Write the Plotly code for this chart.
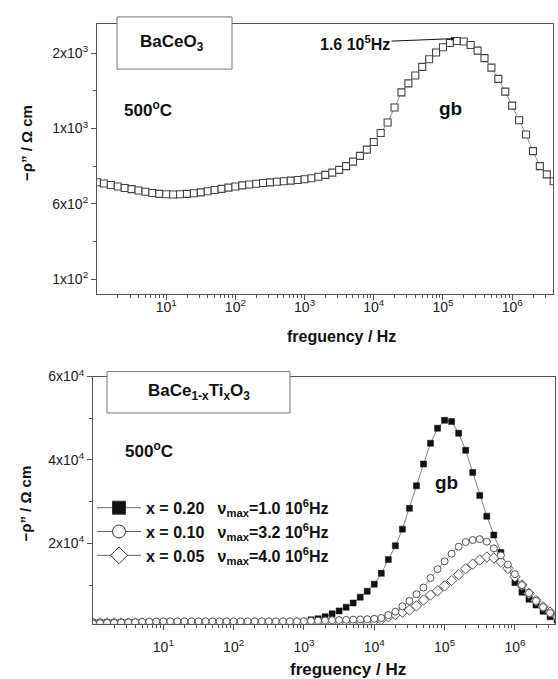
import plotly.graph_objects as go

# ---------------- data ----------------
# top panel: BaCeO3, log10(frequency / Hz) and -rho'' (axis units)
LOG_F_TOP = [0.0, 0.1, 0.2, 0.3, 0.4, 0.5, 0.6, 0.7, 0.8, 0.9,
             1.0, 1.1, 1.2, 1.3, 1.4, 1.5, 1.6, 1.7, 1.8, 1.9,
             2.0, 2.1, 2.2, 2.3, 2.4, 2.5, 2.6, 2.7, 2.8, 2.9,
             3.0, 3.1, 3.2, 3.3, 3.4, 3.5, 3.6, 3.7, 3.8, 3.9,
             4.0, 4.1, 4.2, 4.3, 4.4, 4.5, 4.6, 4.7, 4.8, 4.9,
             5.0, 5.1, 5.2, 5.3, 5.4, 5.5, 5.6, 5.7, 5.8, 5.9,
             6.0, 6.1, 6.2, 6.3, 6.4, 6.5, 6.6]
RHO_BACEO3 = [1143, 1135, 1125, 1115, 1105, 1097, 1088, 1080, 1072, 1066,
              1063, 1062, 1063, 1066, 1070, 1076, 1083, 1091, 1099, 1107,
              1115, 1122, 1128, 1133, 1138, 1142, 1146, 1150, 1154, 1158,
              1163, 1170, 1180, 1192, 1207, 1225, 1250, 1280, 1318, 1360,
              1410, 1470, 1540, 1640, 1740, 1800, 1852, 1910, 1960, 2005,
              2040, 2068, 2082, 2078, 2055, 2018, 1968, 1905, 1830, 1745,
              1652, 1555, 1460, 1350, 1250, 1195, 1150]

# bottom panel: BaCe(1-x)Ti(x)O3
LOG_F_BOT = LOG_F_TOP
RHO_X020 = [1000, 1000, 1000, 1000, 1000, 1000, 1000, 1000, 1000, 1000,
            1000, 1000, 1000, 1000, 1000, 1000, 1000, 1000, 1000, 1000,
            1000, 1000, 1000, 1000, 1000, 1000, 1000, 1000, 1000, 1000,
            1200, 1650, 1900, 2400, 3100, 3800, 4700, 5700, 7100, 8500,
            10200, 12800, 16100, 19400, 23400, 28400, 33800, 39000, 44000, 47600,
            49500, 49200, 46400, 42300, 37000, 31500, 26500, 22000, 17800, 14000,
            10600, 8300, 6600, 5200, 3700, 2400, 1600]
RHO_X010 = [800, 850, 900, 950, 1000, 1050, 1100, 1150, 1200, 1250,
            1300, 1300, 1300, 1300, 1300, 1300, 1300, 1300, 1300, 1300,
            1300, 1300, 1300, 1300, 1300, 1300, 1300, 1300, 1300, 1300,
            1350, 1400, 1450, 1500, 1550, 1600, 1650, 1700, 1750, 1800,
            1900, 2100, 2800, 3600, 4900, 6150, 7800, 9400, 11700, 13800,
            15700, 17500, 19200, 20300, 20800, 21000, 20400, 18800, 17100, 14900,
            12600, 10000, 8100, 6200, 4700, 3300, 2300]
RHO_X005 = [900, 900, 900, 900, 900, 900, 900, 900, 900, 900,
            900, 900, 900, 900, 900, 900, 900, 900, 900, 900,
            900, 900, 900, 900, 900, 900, 900, 900, 900, 900,
            950, 1000, 1050, 1100, 1150, 1200, 1250, 1300, 1350, 1400,
            1450, 1700, 2400, 2900, 3500, 4000, 5000, 6400, 7600, 8600,
            9800, 11100, 12500, 13900, 15000, 16000, 16700, 16500, 15500, 14000,
            12000, 10000, 8000, 6300, 4800, 3500, 2500]

X_TICKS = [10, 100, 1000, 10000, 100000, 1000000]
X_TICKTEXT = ["10<sup>1</sup>", "10<sup>2</sup>", "10<sup>3</sup>",
              "10<sup>4</sup>", "10<sup>5</sup>", "10<sup>6</sup>"]
Y1_TICKS = [500, 1000, 1500, 2000]
Y1_TICKTEXT = ["1x10<sup>2</sup>", "6x10<sup>2</sup>", "1x10<sup>3</sup>", "2x10<sup>3</sup>"]
Y1_MINOR = [750, 1250, 1750]
Y2_TICKS = [20000, 40000, 60000]
Y2_TICKTEXT = ["2x10<sup>4</sup>", "4x10<sup>4</sup>", "6x10<sup>4</sup>"]
Y2_MINOR = [10000, 30000, 50000]

LEGEND_NAMES = [
    "<b>x = 0.20\u00a0\u00a0\u00a0\u03bd<sub>max</sub>=1.0 10<sup>6</sup>Hz</b>",
    "<b>x = 0.10\u00a0\u00a0\u00a0\u03bd<sub>max</sub>=3.2 10<sup>6</sup>Hz</b>",
    "<b>x = 0.05\u00a0\u00a0\u00a0\u03bd<sub>max</sub>=4.0 10<sup>6</sup>Hz</b>",
]

# ---------------- figure ----------------
W, H = 558, 679
FONT = "Liberation Sans, Arial, sans-serif"
AX = "#555555"

f_top = [10 ** e for e in LOG_F_TOP]
f_bot = [10 ** e for e in LOG_F_BOT]
x_minor = [m * 10 ** k for k in range(0, 7) for m in range(2, 10)]

fig = go.Figure()

fig.add_trace(go.Scatter(
    x=f_top, y=RHO_BACEO3, mode="lines+markers", xaxis="x", yaxis="y",
    line=dict(color="#777777", width=0.8),
    marker=dict(symbol="square", size=7, color="white", line=dict(color="#444444", width=1.1)),
    showlegend=False))

fig.add_trace(go.Scatter(
    x=f_bot, y=RHO_X020, mode="lines+markers", xaxis="x2", yaxis="y2",
    line=dict(color="#666666", width=0.8),
    marker=dict(symbol="square", size=6, color="#111111", line=dict(color="#111111", width=0.5)),
    showlegend=False))
fig.add_trace(go.Scatter(
    x=f_bot, y=RHO_X005, mode="lines+markers", xaxis="x2", yaxis="y2",
    line=dict(color="#777777", width=0.8),
    marker=dict(symbol="diamond", size=8, color="white", line=dict(color="#555555", width=1)),
    showlegend=False))
fig.add_trace(go.Scatter(
    x=f_bot, y=RHO_X010, mode="lines+markers", xaxis="x2", yaxis="y2",
    line=dict(color="#777777", width=0.8),
    marker=dict(symbol="circle", size=7, color="white", line=dict(color="#555555", width=1)),
    showlegend=False))

# legend entries
for name, sym, fill in zip(LEGEND_NAMES, ["square", "circle", "diamond"],
                           ["#111111", "white", "white"]):
    fig.add_trace(go.Scatter(
        x=[None], y=[None], mode="lines+markers", xaxis="x2", yaxis="y2", name=name,
        line=dict(color="#666666", width=1),
        marker=dict(symbol=sym, size=13, color=fill, line=dict(color="#333333", width=1)),
        showlegend=True))

axis_common = dict(showline=True, linecolor=AX, linewidth=1.2, mirror=True,
                   ticks="outside", ticklen=5, tickcolor=AX, tickwidth=1,
                   showgrid=False, zeroline=False,
                   tickfont=dict(family=FONT, size=14, color="#222222"))

fig.update_layout(
    width=W, height=H, margin=dict(l=0, r=0, t=0, b=0),
    paper_bgcolor="white", plot_bgcolor="white",
    font=dict(family=FONT, color="#111111"),
    xaxis=dict(domain=[97 / W, 553 / W], anchor="y", type="log", range=[0.0, 6.59],
               tickmode="array", tickvals=X_TICKS, ticktext=X_TICKTEXT,
               minor=dict(tickmode="array", tickvals=x_minor, ticks="outside",
                          ticklen=3, tickcolor=AX, showgrid=False),
               ticklabelstandoff=-5, **axis_common),
    yaxis=dict(domain=[1 - 288 / H, 1 - 14 / H], anchor="x", range=[402, 2196],
               tickmode="array", tickvals=Y1_TICKS, ticktext=Y1_TICKTEXT,
               minor=dict(tickmode="array", tickvals=Y1_MINOR, ticks="outside",
                          ticklen=3, tickcolor=AX, showgrid=False),
               **axis_common),
    xaxis2=dict(domain=[93 / W, 555 / W], anchor="y2", type="log", range=[0.0, 6.57],
                tickmode="array", tickvals=X_TICKS, ticktext=X_TICKTEXT,
                minor=dict(tickmode="array", tickvals=x_minor, ticks="outside",
                           ticklen=3, tickcolor=AX, showgrid=False),
                ticklabelstandoff=5, **axis_common),
    yaxis2=dict(domain=[1 - 623 / H, 1 - 372 / H], anchor="x2", range=[700, 60000],
                tickmode="array", tickvals=Y2_TICKS, ticktext=Y2_TICKTEXT,
                minor=dict(tickmode="array", tickvals=Y2_MINOR, ticks="outside",
                           ticklen=3, tickcolor=AX, showgrid=False),
                **axis_common),
    legend=dict(x=92 / W, y=1 - 488 / H, xanchor="left", yanchor="top",
                bgcolor="rgba(0,0,0,0)", borderwidth=0,
                font=dict(family=FONT, size=16, color="#111111"),
                itemwidth=44, tracegroupgap=0),
)

def px(x, y):
    return x / W, 1 - y / H

# boxes
fig.add_shape(type="rect", xref="paper", yref="paper",
              x0=117 / W, x1=232 / W, y0=1 - 60 / H, y1=1 - 7 / H,
              fillcolor="white", line=dict(color="#777777", width=1), layer="above")
fig.add_shape(type="rect", xref="paper", yref="paper",
              x0=107 / W, x1=290 / W, y0=1 - 409 / H, y1=1 - 367 / H,
              fillcolor="white", line=dict(color="#777777", width=1), layer="above")

def label(text, x, y, size=15, **kw):
    xx, yy = px(x, y)
    fig.add_annotation(text=text, x=xx, y=yy, xref="paper", yref="paper",
                       showarrow=False, xanchor="center", yanchor="middle",
                       font=dict(family=FONT, size=size, color="#111111"), **kw)

label("<b>BaCeO<sub>3</sub></b>", 172, 33, 17)
label("<b>500<sup>o</sup>C</b>", 148, 100, 17)
label("<b>gb</b>", 450, 100, 19)
label("<b>BaCe<sub>1-x</sub>Ti<sub>x</sub>O<sub>3</sub></b>", 199, 388, 17)
label("<b>500<sup>o</sup>C</b>", 149, 447, 17)
label("<b>gb</b>", 446, 480, 19)

# axis titles
label("<b>freguency / Hz</b>", 341, 331, 16)
label("<b>freguency / Hz</b>", 348, 669, 17)
label("<b>\u2212\u03c1\u201d / \u03a9 cm</b>", 26, 135, 15, textangle=-90)
label("<b>\u2212\u03c1\u201d / \u03a9 cm</b>", 26, 501, 15, textangle=-90)

# peak arrow annotation
ax_, ay_ = px(455, 29)
fig.add_annotation(text="<b>1.6 10<sup>5</sup>Hz</b>", x=ax_, y=ay_, xref="paper", yref="paper",
                   showarrow=True, ax=-100, ay=4, axref="pixel", ayref="pixel",
                   arrowhead=2, arrowsize=0.8, arrowwidth=1, arrowcolor="#111111",
                   font=dict(family=FONT, size=16, color="#111111"))

fig.write_html("out.html")
